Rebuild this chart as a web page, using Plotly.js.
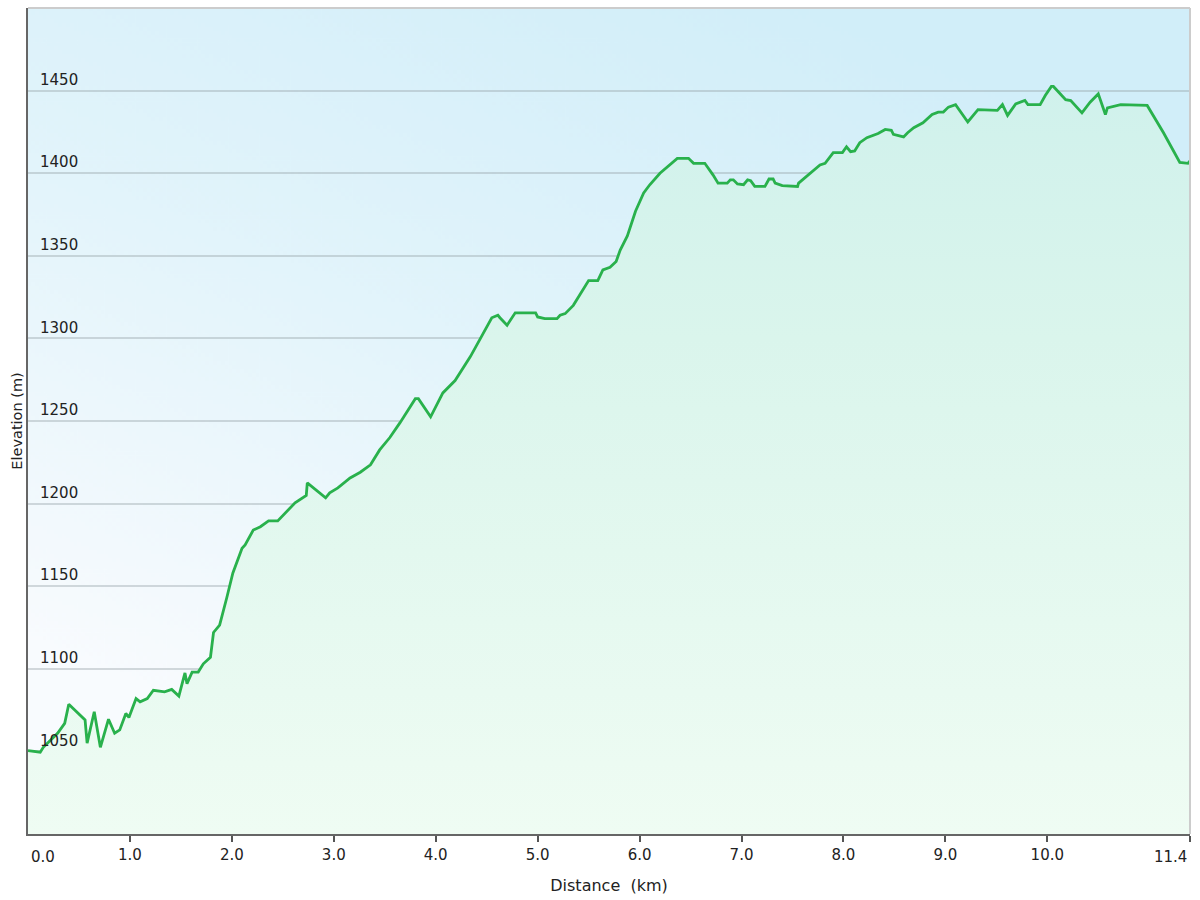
<!DOCTYPE html>
<html>
<head>
<meta charset="utf-8">
<script src="https://cdn.plot.ly/plotly-3.0.1.min.js"></script>
<style>html,body{margin:0;padding:0;background:#fff;}#chart{width:1200px;height:900px;}</style>
</head>
<body>
<div id="chart"></div>
<script>
const distanceKm = [
  0.00, 0.12, 0.15, 0.29, 0.36, 0.40, 0.56, 0.58, 0.65, 0.71, 0.79, 0.85, 0.90, 0.96, 0.99,
  1.06, 1.10, 1.17, 1.23, 1.34, 1.41, 1.48, 1.54, 1.56, 1.61, 1.67, 1.72, 1.79, 1.82, 1.88,
  1.95, 2.01, 2.10, 2.13, 2.21, 2.28, 2.36, 2.45, 2.62, 2.73, 2.74, 2.77, 2.80, 2.92, 2.96,
  3.04, 3.16, 3.26, 3.36, 3.45, 3.55, 3.65, 3.80, 3.83, 3.95, 4.07, 4.19, 4.34, 4.47, 4.55,
  4.61, 4.63, 4.70, 4.78, 4.98, 5.00, 5.07, 5.19, 5.22, 5.27, 5.35, 5.44, 5.50, 5.59, 5.64,
  5.71, 5.77, 5.81, 5.88, 5.96, 6.04, 6.10, 6.20, 6.37, 6.48, 6.53, 6.64, 6.72, 6.77, 6.86,
  6.89, 6.92, 6.96, 7.02, 7.06, 7.09, 7.13, 7.23, 7.27, 7.31, 7.33, 7.40, 7.55, 7.56, 7.70,
  7.77, 7.82, 7.90, 7.99, 8.03, 8.07, 8.11, 8.16, 8.23, 8.34, 8.41, 8.47, 8.49, 8.59, 8.63,
  8.69, 8.78, 8.87, 8.93, 8.98, 9.03, 9.10, 9.22, 9.32, 9.51, 9.56, 9.61, 9.69, 9.78, 9.81,
  9.93, 9.98, 10.04, 10.06, 10.18, 10.23, 10.34, 10.42, 10.50, 10.57, 10.59, 10.72, 10.98, 11.14, 11.30,
  11.38, 11.40
];
const elevationM = [
  1050.5, 1049.5, 1052.5, 1061, 1067, 1078.5, 1069, 1055, 1074, 1052.5, 1069.5, 1061, 1063, 1073, 1070.5,
  1082, 1080, 1082, 1087, 1086, 1087.5, 1083.5, 1097.5, 1091, 1098, 1098, 1103, 1107, 1122, 1126.5,
  1143, 1158, 1173, 1175, 1184, 1186, 1189.5, 1189.5, 1200.5, 1205, 1212.5, 1211, 1209, 1203.5, 1206.5,
  1209.5, 1215.5, 1219, 1223.5, 1232.5, 1240, 1249, 1263.5, 1263.5, 1252.5, 1267, 1274.5, 1289, 1303.5, 1312.5,
  1314, 1312.5, 1308, 1315.5, 1315.5, 1313, 1312, 1312, 1314, 1315, 1320, 1329.5, 1335, 1335, 1341.5,
  1343, 1346.5, 1353.5, 1362, 1377, 1388, 1393, 1400, 1409, 1409, 1406, 1406, 1399, 1394, 1394,
  1396, 1396, 1393.5, 1393, 1396, 1395.5, 1392, 1392, 1396.5, 1396.5, 1394, 1392.5, 1392, 1394, 1401.5,
  1405, 1406, 1412.5, 1412.5, 1416, 1413, 1413.5, 1418.5, 1421.5, 1424, 1426.5, 1426, 1423.5, 1422, 1424.5,
  1427.5, 1430.5, 1435.5, 1437, 1437, 1440, 1441.5, 1431, 1438.5, 1438, 1441.5, 1435, 1442, 1444, 1441.5,
  1441.5, 1447, 1452.5, 1452.5, 1444.5, 1444, 1436.5, 1443, 1448, 1435.5, 1439.5, 1441.5, 1441, 1424.5, 1406.5,
  1406, 1407.5
];
const xTickVals = [0, 1, 2, 3, 4, 5, 6, 7, 8, 9, 10, 11.4];
const xTickText = ["0.0", "1.0", "2.0", "3.0", "4.0", "5.0", "6.0", "7.0", "8.0", "9.0", "10.0", "11.4"];
const yTickVals = [1050, 1100, 1150, 1200, 1250, 1300, 1350, 1400, 1450];
const yTickText = ["1050", "1100", "1150", "1200", "1250", "1300", "1350", "1400", "1450"];

// background gradient image for the plot area
function makeBg() {
  const c = document.createElement('canvas');
  c.width = 600; c.height = 420;
  const g = c.getContext('2d');
  const grd = g.createLinearGradient(420, 0, 250, 420);
  grd.addColorStop(0, '#d1eef9');
  grd.addColorStop(0.5, '#e2f4fb');
  grd.addColorStop(1, '#f8fbfe');
  g.fillStyle = grd;
  g.fillRect(0, 0, 600, 420);
  return c.toDataURL('image/png');
}

const font = 'DejaVu Sans, Verdana, sans-serif';
const trace = {
  x: distanceKm,
  y: elevationM,
  type: 'scatter',
  mode: 'lines',
  line: {color: '#29b14c', width: 2.8},
  fill: 'tozeroy',
  fillgradient: {
    type: 'vertical',
    start: 1000,
    stop: 1500,
    colorscale: [[0, '#effcf3'], [0.6, '#daf5ec'], [1, '#cdf0ec']]
  },
  hoverinfo: 'x+y'
};

// edge tick labels are drawn as annotations so they sit inside the frame like the original
const shownTickText = xTickText.map((t, i) => (i === 0 || i === xTickText.length - 1) ? '' : t);
const edgeLabels = [
  {text: xTickText[0], x: xTickVals[0], xanchor: 'left', xshift: 1},
  {text: xTickText[xTickText.length - 1], x: xTickVals[xTickVals.length - 1], xanchor: 'right', xshift: -1}
].map(a => Object.assign({
  xref: 'x', yref: 'paper', y: 0, yanchor: 'top', yshift: -12,
  showarrow: false, font: {family: font, size: 15, color: '#222'}
}, a));

const layout = {
  width: 1200,
  height: 900,
  margin: {l: 28, r: 10, t: 8, b: 66, pad: 0},
  paper_bgcolor: '#ffffff',
  plot_bgcolor: 'rgba(0,0,0,0)',
  showlegend: false,
  font: {family: font, size: 15, color: '#222'},
  xaxis: {
    range: [0, 11.4],
    tickvals: xTickVals,
    ticktext: shownTickText,
    ticks: 'outside',
    ticklen: 6,
    tickwidth: 2,
    tickcolor: '#555',
    showline: true,
    linecolor: '#666',
    linewidth: 2,
    showgrid: false,
    zeroline: false,
    tickfont: {family: font, size: 15, color: '#222'},
    title: {text: 'Distance  (km)', font: {family: font, size: 16, color: '#222'}, standoff: 17}
  },
  yaxis: {
    range: [1000, 1500],
    tickvals: yTickVals,
    ticktext: yTickText,
    ticks: '',
    ticklabelposition: 'inside',
    ticklabelstandoff: 12,
    ticklabelshift: -11,
    showline: true,
    linecolor: '#666',
    linewidth: 2,
    showgrid: true,
    gridcolor: 'rgba(150,162,168,0.4)',
    gridwidth: 2,
    zeroline: false,
    tickfont: {family: font, size: 15, color: '#222'},
    title: {text: 'Elevation (m)', font: {family: font, size: 14.5, color: '#222'}, standoff: 14}
  },
  annotations: edgeLabels,
  images: [{
    source: makeBg(),
    xref: 'paper', yref: 'paper',
    x: 0, y: 1, sizex: 1, sizey: 1,
    xanchor: 'left', yanchor: 'top',
    sizing: 'stretch',
    layer: 'below'
  }],
  shapes: [
    {type: 'line', xref: 'paper', yref: 'paper', x0: 0, x1: 1, y0: 1, y1: 1, line: {color: '#cccccc', width: 2}},
    {type: 'line', xref: 'paper', yref: 'paper', x0: 1, x1: 1, y0: 0, y1: 1, line: {color: '#cccccc', width: 2}}
  ]
};

Plotly.newPlot('chart', [trace], layout, {displayModeBar: false, staticPlot: true});
</script>
</body>
</html>
